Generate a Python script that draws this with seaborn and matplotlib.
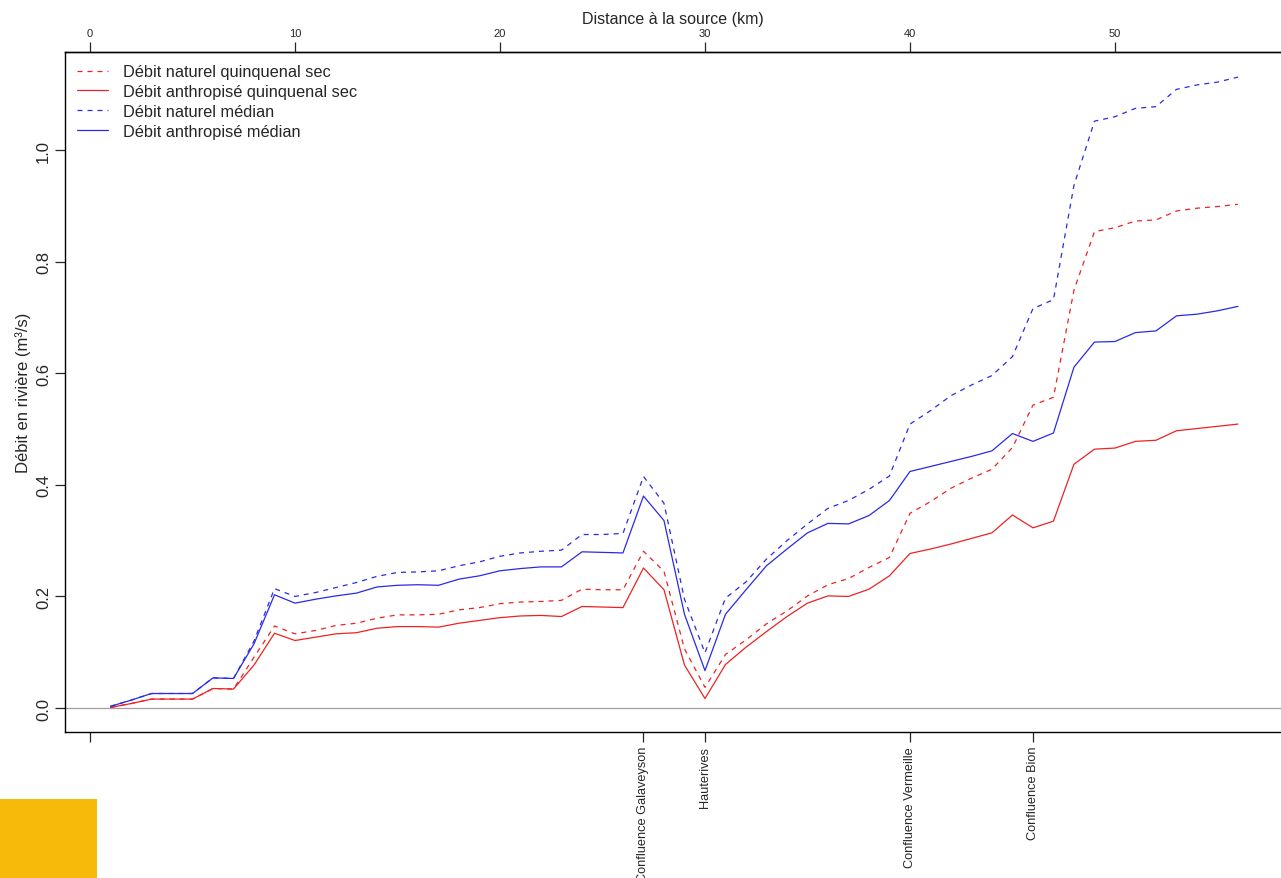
import numpy as np
import pandas as pd
import matplotlib
matplotlib.use("Agg")
import matplotlib.pyplot as plt
import seaborn as sns
from matplotlib.patches import Rectangle

km = list(range(1, 57))

naturel_qsec = [0.001, 0.008, 0.016, 0.016, 0.016, 0.035, 0.034, 0.091, 0.147, 0.133,
                0.139, 0.148, 0.152, 0.161, 0.167, 0.167, 0.168, 0.176, 0.180, 0.187,
                0.190, 0.191, 0.193, 0.213, 0.212, 0.212, 0.281, 0.245, 0.106, 0.037,
                0.096, 0.122, 0.151, 0.174, 0.201, 0.221, 0.232, 0.252, 0.270, 0.349,
                0.370, 0.394, 0.412, 0.428, 0.467, 0.543, 0.557, 0.749, 0.854, 0.861,
                0.873, 0.875, 0.891, 0.896, 0.899, 0.903]

anthropise_qsec = [0.001, 0.008, 0.016, 0.016, 0.016, 0.035, 0.034, 0.077, 0.134, 0.121,
                   0.127, 0.133, 0.135, 0.143, 0.146, 0.146, 0.145, 0.152, 0.157, 0.162,
                   0.165, 0.166, 0.164, 0.182, 0.181, 0.180, 0.251, 0.212, 0.077, 0.017,
                   0.078, 0.109, 0.137, 0.164, 0.188, 0.201, 0.200, 0.213, 0.237, 0.277,
                   0.285, 0.294, 0.304, 0.314, 0.346, 0.323, 0.335, 0.437, 0.464, 0.466,
                   0.478, 0.480, 0.497, 0.501, 0.505, 0.509]

naturel_median = [0.003, 0.014, 0.026, 0.026, 0.026, 0.054, 0.053, 0.120, 0.214, 0.200,
                  0.207, 0.216, 0.225, 0.236, 0.243, 0.244, 0.246, 0.255, 0.262, 0.272,
                  0.278, 0.281, 0.283, 0.311, 0.311, 0.313, 0.415, 0.367, 0.195, 0.099,
                  0.197, 0.226, 0.267, 0.300, 0.330, 0.358, 0.372, 0.392, 0.416, 0.509,
                  0.533, 0.560, 0.579, 0.596, 0.630, 0.716, 0.732, 0.937, 1.052, 1.060,
                  1.075, 1.078, 1.109, 1.117, 1.122, 1.131]

anthropise_median = [0.003, 0.014, 0.026, 0.026, 0.026, 0.054, 0.053, 0.115, 0.203, 0.188,
                     0.195, 0.201, 0.206, 0.217, 0.220, 0.221, 0.220, 0.231, 0.237, 0.246,
                     0.250, 0.253, 0.253, 0.280, 0.279, 0.278, 0.380, 0.336, 0.168, 0.067,
                     0.168, 0.212, 0.255, 0.285, 0.314, 0.331, 0.330, 0.345, 0.372, 0.424,
                     0.433, 0.442, 0.451, 0.461, 0.492, 0.478, 0.493, 0.611, 0.656, 0.657,
                     0.673, 0.676, 0.703, 0.706, 0.712, 0.720]

series_labels = ["Débit naturel quinquenal sec", "Débit anthropisé quinquenal sec",
                 "Débit naturel médian", "Débit anthropisé médian"]

lieux_km = [0, 27, 30, 40, 46]
lieux_noms = ["", "Confluence Galaveyson", "Hauterives", "Confluence Vermeille", "Confluence Bion"]

df = pd.DataFrame({"km": km,
                   series_labels[0]: naturel_qsec,
                   series_labels[1]: anthropise_qsec,
                   series_labels[2]: naturel_median,
                   series_labels[3]: anthropise_median})
long = df.melt(id_vars="km", var_name="serie", value_name="debit")

sns.set_style("ticks")
plt.rcParams["font.family"] = ["Liberation Sans", "DejaVu Sans"]

fig = plt.figure(figsize=(12.81, 8.79), dpi=100)
W, H = 1281, 879
ax = fig.add_axes([65 / W, (H - 733) / H, (W - 65) / W, 680 / H])

couleurs = {series_labels[0]: "#ee2222", series_labels[1]: "#ee2222",
            series_labels[2]: "#2a2ae6", series_labels[3]: "#2a2ae6"}
dashes = {series_labels[0]: (4, 4), series_labels[1]: "",
          series_labels[2]: (4, 4), series_labels[3]: ""}

ax.axhline(0, color="#a0a0a0", lw=0.9, zorder=0)
sns.lineplot(data=long, x="km", y="debit", hue="serie", style="serie",
             palette=couleurs, dashes=dashes, hue_order=series_labels,
             style_order=series_labels, linewidth=0.9, ax=ax)

ax.set_xlim(-1.22, 58.1)
ax.set_ylim(-0.043, 1.176)

# bottom axis: named places
ax.set_xticks(lieux_km)
ax.set_xticklabels(lieux_noms, rotation=90, fontsize=9.2, va="top")
ax.tick_params(axis="x", direction="out", length=7, width=0.9, pad=3)
ax.set_xlabel("")

# left axis
yt = [0.0, 0.2, 0.4, 0.6, 0.8, 1.0]
ax.set_yticks(yt)
ax.set_yticklabels([f"{v:.1f}" for v in yt], rotation=90, va="center", fontsize=12)
ax.tick_params(axis="y", direction="out", length=7, width=0.9, pad=3)
ax.set_ylabel("Débit en rivière (m³/s)", fontsize=12, labelpad=4)

# top axis: distance
top = ax.secondary_xaxis("top")
top.set_xticks([0, 10, 20, 30, 40, 50])
top.set_xticklabels(["0", "10", "20", "30", "40", "50"], fontsize=8)
top.tick_params(direction="out", length=7, width=0.9, pad=3)
top.set_xlabel("Distance à la source (km)", fontsize=11.5, labelpad=4)

for s in ["left", "bottom", "top"]:
    ax.spines[s].set_linewidth(1.0)
    ax.spines[s].set_color("black")
ax.spines["right"].set_visible(False)
top.spines["top"].set_linewidth(1.0)

leg = ax.legend(loc="upper left", frameon=False, fontsize=11.8, handlelength=1.85,
                handletextpad=0.95, labelspacing=0.3, borderaxespad=0.35,
                bbox_to_anchor=(0.0, 1.0))

fig.patches.append(Rectangle((0, 0), 97 / W, 79 / H, transform=fig.transFigure,
                             facecolor="#f8ba0a", edgecolor="none"))

fig.savefig("out.png", dpi=100)
